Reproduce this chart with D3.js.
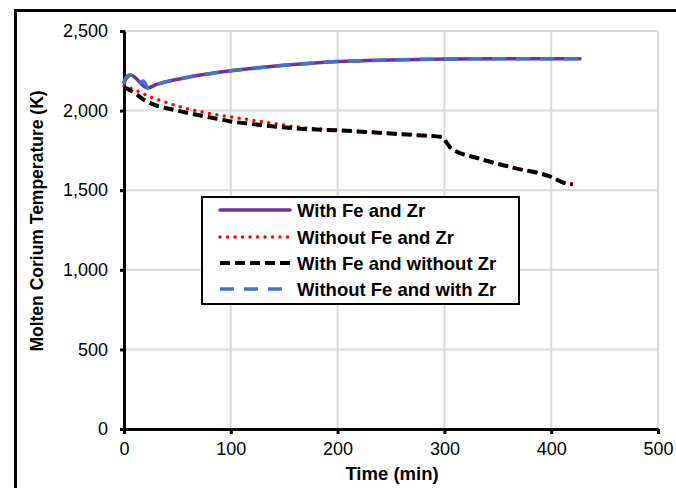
<!DOCTYPE html>
<html><head><meta charset="utf-8">
<script src="https://cdn.jsdelivr.net/npm/d3@7"></script>
<style>body{margin:0;background:#fff;}svg{display:block;font-family:"Liberation Sans",Arial,sans-serif;}</style>
</head><body>
<script>
// Data
const xTicks = [0,100,200,300,400,500];
const yTicks = [0,500,1000,1500,2000,2500];
const seriesNames = ["With Fe and Zr","Without Fe and Zr","With Fe and without Zr","Without Fe and with Zr"];
const timeFeZr = [0,2,6,22,30,40,50,60,70,80,100,120,150,175,200,250,300,350,400,427];
const tempFeZr = [2180,2200,2224,2142,2163,2182,2197,2210,2222,2232,2250,2265,2285,2298,2308,2318,2324,2326,2326,2326];
const timeNoFeNoZr = [0,10,25,40,60,80,100,130,165,200,250,280,298,302,306,334,365,400,412,420,425];
const tempNoFeNoZr = [2155,2130,2085,2050,2010,1982,1960,1930,1895,1878,1858,1845,1835,1800,1765,1696,1640,1585,1548,1535,1540];
const timeFeNoZr = [0,10,20,30,40,60,80,100,130,165,200,250,280,298,302,306,334,365,400,412,420];
const tempFeNoZr = [2148,2110,2062,2032,2015,1985,1958,1932,1908,1886,1876,1856,1843,1834,1800,1765,1696,1640,1583,1546,1538];
const timeNoFeZr = [0,1,5,15,18,23,30,40,50,60,70,80,100,120,150,175,200,250,300,350,400,427];
const tempNoFeZr = [2165,2195,2224,2175,2186,2140,2163,2182,2197,2210,2222,2232,2250,2265,2285,2298,2308,2318,2324,2326,2326,2326];

const W=676,H=488;
const svg=d3.select("body").append("svg").attr("width",W).attr("height",H);
const x=d3.scaleLinear().domain([0,500]).range([124,658]);
const y=d3.scaleLinear().domain([0,2500]).range([429,31]);

// outer border (left and top visible)
svg.append("path").attr("d",`M15.5,${H+5}V10.5H${W+5}`).attr("fill","none").attr("stroke","#000").attr("stroke-width",3);

// gridlines
svg.append("g").selectAll("line").data(xTicks.filter(d=>d>0)).join("line")
  .attr("x1",d=>x(d)).attr("x2",d=>x(d)).attr("y1",y(0)).attr("y2",y(2500))
  .attr("stroke","#d9d9d9").attr("stroke-width",2);
svg.append("g").selectAll("line").data(yTicks.filter(d=>d>0)).join("line")
  .attr("x1",x(0)).attr("x2",x(500)).attr("y1",d=>y(d)).attr("y2",d=>y(d))
  .attr("stroke","#d9d9d9").attr("stroke-width",2);

// axes
const xAxis=svg.append("g").attr("transform",`translate(0,${y(0)})`)
  .call(d3.axisBottom(x).tickValues(xTicks).tickSize(5).tickSizeOuter(0).tickPadding(8).tickFormat(d3.format("d")));
const yAxis=svg.append("g").attr("transform",`translate(${x(0)},0)`)
  .call(d3.axisLeft(y).tickValues(yTicks).tickSize(5).tickSizeOuter(0).tickPadding(11).tickFormat(d3.format(",")));
[xAxis,yAxis].forEach(a=>{
  a.select(".domain").attr("stroke","#000").attr("stroke-width",3);
  a.selectAll(".tick line").attr("stroke","#000").attr("stroke-width",3);
  a.selectAll(".tick text").attr("fill","#000").attr("font-size",18).attr("font-family","'Liberation Sans',Arial,sans-serif");
});
yAxis.selectAll(".tick line").attr("transform","translate(1,0)");

// series
const line=d3.line().x(d=>x(d[0])).y(d=>y(d[1])).curve(d3.curveMonotoneX);
const zip=(a,b)=>a.map((t,i)=>[t,b[i]]);
const styles=[
  {data:zip(timeFeZr,tempFeZr),color:"#7030A0",dash:null,cap:"round",w:3.5},
  {data:zip(timeNoFeNoZr,tempNoFeNoZr),color:"#FF0000",dash:"0,7.5",cap:"round",w:3.5},
  {data:zip(timeFeNoZr,tempFeNoZr),color:"#000000",dash:"10,5",cap:"butt",w:4},
  {data:zip(timeNoFeZr,tempNoFeZr),color:"#4472C4",dash:"14,10",cap:"butt",w:3.5}
];
styles.forEach(s=>{
  svg.append("path").datum(s.data).attr("d",line).attr("fill","none")
    .attr("stroke",s.color).attr("stroke-width",s.w).attr("stroke-linecap",s.cap)
    .attr("stroke-linejoin","round").attr("stroke-dasharray",s.dash);
});

// legend
const lg=svg.append("g");
lg.append("rect").attr("x",202).attr("y",197).attr("width",317).attr("height",107)
  .attr("fill","#fff").attr("stroke","#000").attr("stroke-width",2);
const rowY=[210,237,263,289];
styles.forEach((s,i)=>{
  lg.append("line").attr("x1",220).attr("x2",290).attr("y1",rowY[i]).attr("y2",rowY[i])
    .attr("stroke",s.color).attr("stroke-width",s.w).attr("stroke-linecap",s.cap)
    .attr("stroke-dasharray",s.dash);
  lg.append("text").attr("x",297).attr("y",rowY[i]).attr("dy","0.36em")
    .attr("font-size",18.5).attr("font-weight","bold").attr("fill","#000").text(seriesNames[i]);
});

// axis titles
svg.append("text").attr("x",392).attr("y",480).attr("text-anchor","middle")
  .attr("font-size",18.5).attr("font-weight","bold").text("Time (min)");
svg.append("text").attr("transform","translate(43,221) rotate(-90)").attr("text-anchor","middle")
  .attr("font-size",17.5).attr("font-weight","bold").text("Molten Corium Temperature (K)");
</script>
</body></html>
